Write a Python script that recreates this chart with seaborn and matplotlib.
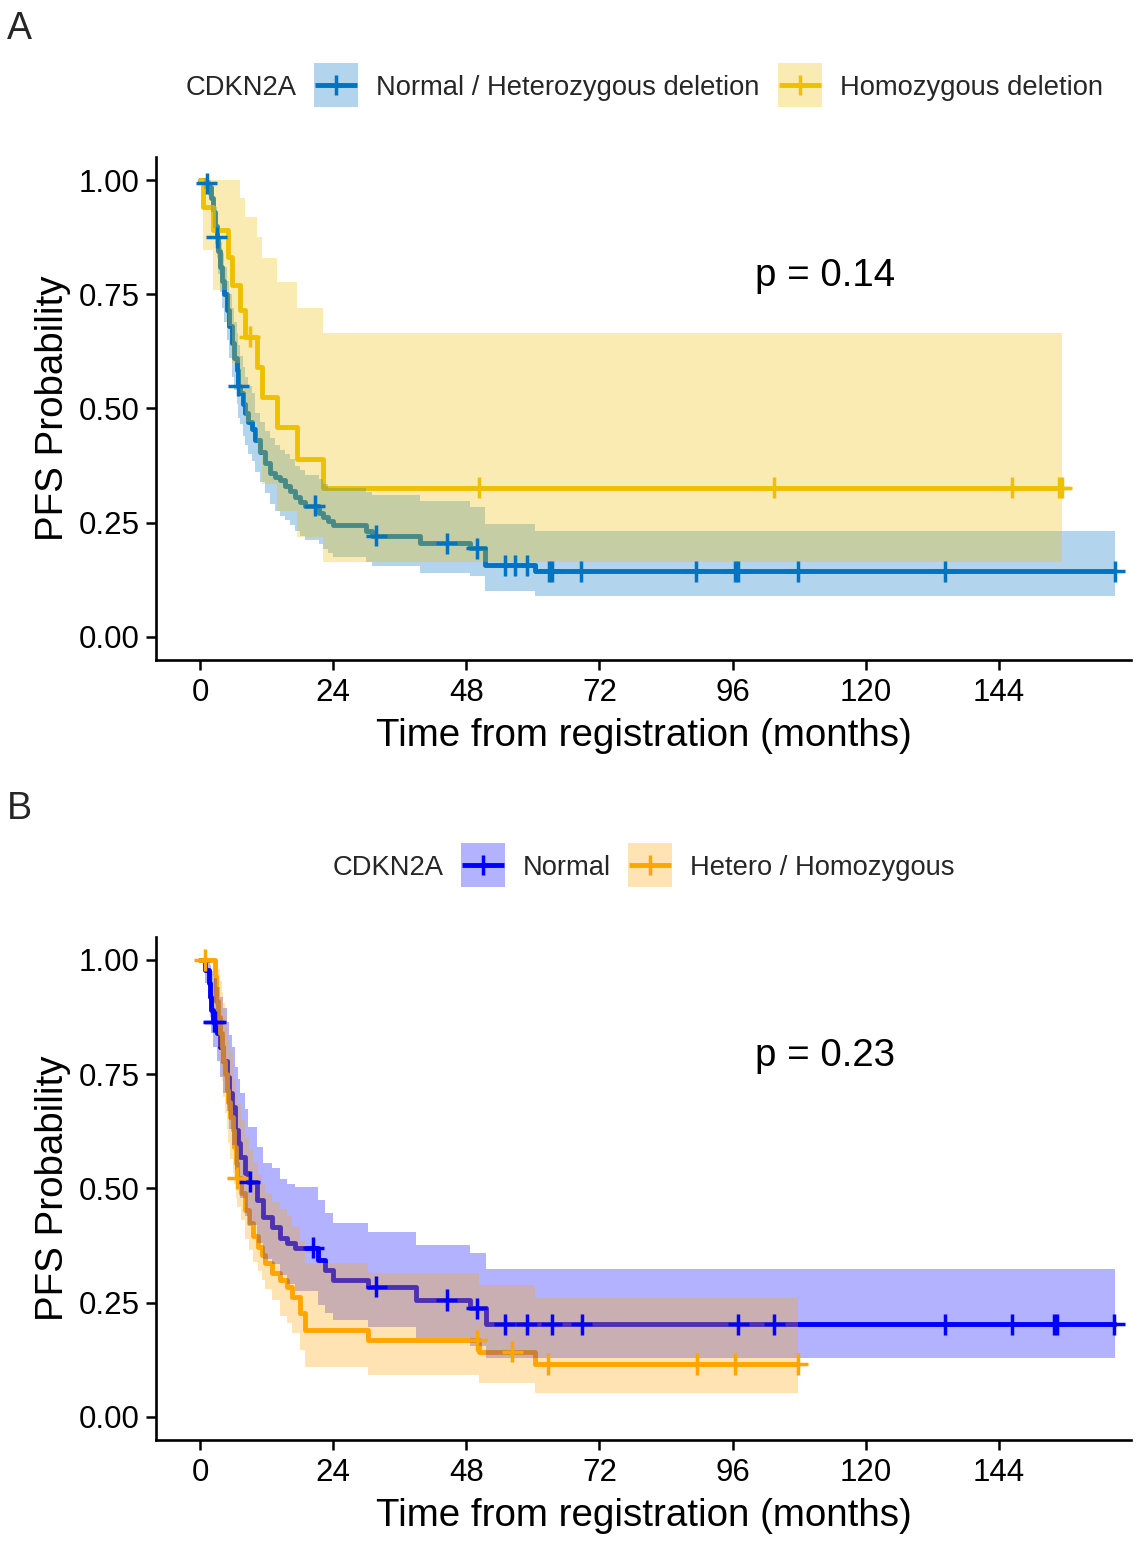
import numpy as np
import pandas as pd
import matplotlib
matplotlib.use("Agg")
import matplotlib.pyplot as plt
import seaborn as sns
from matplotlib.patches import Rectangle
from matplotlib.lines import Line2D

# ---------------- DATA ----------------
# Panel A : CDKN2A Normal / Heterozygous deletion
a1_time = [0, 0.8, 1.5, 2.0, 2.4, 2.7, 3.0, 3.3, 3.6, 3.9, 4.3, 4.8, 5.2, 5.7, 6.2, 6.6, 6.8,
           7.2, 7.7, 8.2, 8.7, 9.3, 10.0, 10.8, 11.7, 12.6, 13.5, 14.4, 15.3, 16.2, 17.1, 18.0,
           19.0, 21.5, 22.2, 23.0, 24.0, 30.0, 31.0, 39.6, 48.7, 51.3, 60.3]
a1_surv = [1.0, 0.993, 0.985, 0.96, 0.93, 0.90, 0.875, 0.845, 0.81, 0.78, 0.75, 0.715, 0.68, 0.643,
           0.61, 0.584, 0.55, 0.535, 0.51, 0.49, 0.47, 0.456, 0.43, 0.405, 0.38, 0.358, 0.35, 0.343,
           0.33, 0.32, 0.307, 0.295, 0.287, 0.272, 0.262, 0.253, 0.244, 0.233, 0.222, 0.205, 0.194,
           0.157, 0.144]
a1_low = [1.0, 0.98, 0.965, 0.93, 0.895, 0.86, 0.83, 0.795, 0.755, 0.72, 0.69, 0.65, 0.61, 0.57,
          0.54, 0.51, 0.48, 0.465, 0.44, 0.42, 0.40, 0.385, 0.36, 0.34, 0.315, 0.29, 0.275, 0.265,
          0.255, 0.245, 0.232, 0.222, 0.213, 0.203, 0.192, 0.183, 0.175, 0.165, 0.155, 0.14, 0.133,
          0.10, 0.089]
a1_up = [1.0, 1.0, 1.0, 0.985, 0.965, 0.94, 0.92, 0.895, 0.865, 0.84, 0.81, 0.78, 0.75, 0.72,
         0.69, 0.665, 0.64, 0.615, 0.59, 0.57, 0.55, 0.535, 0.49, 0.47, 0.45, 0.435, 0.42, 0.41,
         0.40, 0.39, 0.375, 0.365, 0.355, 0.345, 0.335, 0.327, 0.325, 0.318, 0.31, 0.297, 0.285,
         0.248, 0.233]
a1_end = 165.0
a1_cens = [1.2, 3.0, 6.9, 20.7, 31.8, 44.5, 49.9, 54.9, 56.7, 58.9, 62.9, 63.4, 68.7, 89.4,
           96.5, 96.9, 107.7, 134.3, 164.9]

# Panel A : CDKN2A Homozygous deletion
a2_time = [0, 0.5, 2.4, 5.1, 5.7, 7.2, 8.1, 10.2, 11.1, 13.8, 17.4, 22.2]
a2_surv = [1.0, 0.94, 0.89, 0.832, 0.77, 0.715, 0.657, 0.59, 0.525, 0.46, 0.39, 0.327]
a2_low = [1.0, 0.847, 0.76, 0.68, 0.60, 0.535, 0.47, 0.40, 0.335, 0.275, 0.219, 0.164]
a2_up = [1.0, 1.0, 1.0, 1.0, 1.0, 0.96, 0.92, 0.876, 0.83, 0.777, 0.72, 0.665]
a2_end = 155.3
a2_cens = [9.0, 50.3, 103.5, 146.3, 154.9, 155.3]

# Panel B : CDKN2A Normal
b1_time = [0, 0.9, 1.6, 1.8, 2.0, 2.4, 3.0, 3.6, 4.2, 4.8, 5.3, 5.7, 6.3, 6.8, 7.2, 8.1, 8.6,
           10.2, 11.4, 12.9, 14.4, 15.6, 17.1, 21.3, 22.5, 24.0, 30.3, 39.0, 48.7, 51.5]
b1_surv = [1.0, 0.978, 0.95, 0.92, 0.89, 0.865, 0.84, 0.81, 0.78, 0.745, 0.71, 0.679, 0.628, 0.60,
           0.57, 0.534, 0.515, 0.475, 0.438, 0.416, 0.392, 0.38, 0.37, 0.344, 0.322, 0.30, 0.285,
           0.256, 0.238, 0.203]
b1_low = [1.0, 0.95, 0.91, 0.875, 0.84, 0.81, 0.78, 0.745, 0.71, 0.67, 0.63, 0.595, 0.54, 0.51,
          0.48, 0.44, 0.42, 0.38, 0.345, 0.335, 0.31, 0.29, 0.275, 0.245, 0.228, 0.212, 0.198,
          0.172, 0.155, 0.129]
b1_up = [1.0, 1.0, 1.0, 0.99, 0.975, 0.96, 0.94, 0.92, 0.895, 0.865, 0.835, 0.81, 0.765, 0.74,
         0.71, 0.675, 0.635, 0.59, 0.555, 0.545, 0.52, 0.51, 0.504, 0.475, 0.446, 0.424, 0.405,
         0.376, 0.358, 0.324]
b1_end = 165.0
b1_cens = [2.5, 2.7, 9.0, 20.4, 31.8, 44.5, 49.9, 54.9, 58.9, 63.4, 68.8, 97.0, 103.5, 134.3,
           146.3, 154.0, 154.4, 164.8]

# Panel B : CDKN2A Hetero / Homozygous
b2_time = [0, 2.7, 2.9, 3.3, 3.6, 3.9, 4.2, 4.5, 4.8, 5.1, 5.4, 6.0, 6.2, 6.5, 6.6, 7.3, 8.1,
           8.8, 9.6, 10.5, 11.1, 11.7, 12.9, 14.5, 15.6, 16.5, 18.0, 18.9, 30.3, 50.3, 60.3]
b2_surv = [1.0, 0.965, 0.91, 0.875, 0.84, 0.81, 0.78, 0.75, 0.716, 0.69, 0.657, 0.628, 0.59,
           0.555, 0.523, 0.49, 0.453, 0.425, 0.395, 0.373, 0.355, 0.337, 0.315, 0.30, 0.285,
           0.263, 0.227, 0.19, 0.168, 0.143, 0.116]
b2_low = [1.0, 0.92, 0.855, 0.81, 0.77, 0.735, 0.70, 0.665, 0.63, 0.60, 0.565, 0.535, 0.51,
          0.48, 0.46, 0.43, 0.39, 0.365, 0.34, 0.32, 0.30, 0.28, 0.255, 0.22, 0.205, 0.183,
          0.147, 0.11, 0.092, 0.074, 0.052]
b2_up = [1.0, 1.0, 1.0, 0.98, 0.955, 0.93, 0.905, 0.88, 0.85, 0.825, 0.80, 0.775, 0.74, 0.71,
         0.685, 0.65, 0.61, 0.585, 0.555, 0.53, 0.51, 0.49, 0.47, 0.455, 0.44, 0.415, 0.385,
         0.337, 0.315, 0.289, 0.26]
b2_end = 107.7
b2_cens = [0.9, 6.7, 49.9, 56.3, 62.7, 89.6, 96.4, 107.7]

legend_title = "CDKN2A"
a_labels = ["Normal / Heterozygous deletion", "Homozygous deletion"]
b_labels = ["Normal", "Hetero / Homozygous"]
a_colors = ["#0073C2", "#EFC000"]
b_colors = ["#0000FF", "#FFA500"]
a_pval = "p = 0.14"
b_pval = "p = 0.23"
x_ticks = [0, 24, 48, 72, 96, 120, 144]
y_ticks = [0.0, 0.25, 0.5, 0.75, 1.0]
y_ticklabels = ["0.00", "0.25", "0.50", "0.75", "1.00"]
x_label = "Time from registration (months)"
y_label = "PFS Probability"

# ---------------- STYLE ----------------
sns.set_theme(style="ticks")
plt.rcParams["font.family"] = ["Liberation Sans", "DejaVu Sans"]

W, H = 1143, 1544
fig = plt.figure(figsize=(W / 100, H / 100), dpi=100)

LW = 3.5
ALPHA = 0.3


def surv_at(times, surv, t):
    idx = np.searchsorted(np.asarray(times), t, side="right") - 1
    return np.asarray(surv)[idx]


def draw_panel(ax, series, colors, labels):
    # step lines first
    rows = []
    for (tm, sv, lo, up, end), lab in zip(series, labels):
        for t, s in zip(list(tm) + [end], list(sv) + [sv[-1]]):
            rows.append({"time": t, "surv": s, "group": lab})
    df = pd.DataFrame(rows)
    sns.lineplot(data=df, x="time", y="surv", hue="group", hue_order=labels,
                 palette=colors, estimator=None, sort=False, drawstyle="steps-post",
                 linewidth=LW, legend=False, ax=ax, zorder=2)
    # confidence ribbons on top of lines
    for (tm, sv, lo, up, end), col in zip(series, colors):
        tt = list(tm) + [end]
        ax.fill_between(tt, list(lo) + [lo[-1]], list(up) + [up[-1]], step="post",
                        color=col, alpha=ALPHA, linewidth=0, zorder=3)


def draw_censors(ax, series, cens_list, colors, labels):
    rows = []
    for (tm, sv, lo, up, end), cens, lab in zip(series, cens_list, labels):
        for c in cens:
            rows.append({"time": c, "surv": surv_at(tm, sv, c), "group": lab})
    cdf = pd.DataFrame(rows)
    sns.scatterplot(data=cdf, x="time", y="surv", hue="group", hue_order=labels,
                    palette=colors, marker="+", s=230, linewidth=2.5, legend=False,
                    ax=ax, zorder=4)


def style_axes(ax, pval):
    ax.set_xlim(-7.93, 167.8)
    ax.set_ylim(-0.05, 1.05)
    ax.set_xticks(x_ticks)
    ax.set_xticklabels([str(v) for v in x_ticks])
    ax.set_yticks(y_ticks)
    ax.set_yticklabels(y_ticklabels)
    ax.tick_params(axis="both", labelsize=22.5, length=7, width=1.8, color="black",
                   labelcolor="black", direction="out")
    ax.tick_params(axis="x", pad=6)
    ax.tick_params(axis="y", pad=5)
    for side in ["top", "right"]:
        ax.spines[side].set_visible(False)
    for side in ["left", "bottom"]:
        ax.spines[side].set_linewidth(1.9)
        ax.spines[side].set_color("black")
    ax.set_xlabel(x_label, fontsize=27.7, color="black")
    ax.set_ylabel(y_label, fontsize=27.7, color="black")
    ax.xaxis.set_label_coords(0.5, -0.115)
    ax.yaxis.set_label_coords(-0.087, 0.5)
    ax.text(100, 0.79, pval, fontsize=27.7, ha="left", va="center", color="black")
    ax.set_facecolor("white")


left = 156 / W
width = (1131 - 156) / W
hgt = (1439.85 - 937.15) / H
axA = fig.add_axes([left, 1 - 659.85 / H, width, hgt])
axB = fig.add_axes([left, 1 - 1439.85 / H, width, hgt])

seriesA = [(a1_time, a1_surv, a1_low, a1_up, a1_end), (a2_time, a2_surv, a2_low, a2_up, a2_end)]
seriesB = [(b1_time, b1_surv, b1_low, b1_up, b1_end), (b2_time, b2_surv, b2_low, b2_up, b2_end)]

draw_panel(axA, seriesA, a_colors, a_labels)
draw_censors(axA, seriesA, [a1_cens, a2_cens], a_colors, a_labels)
style_axes(axA, a_pval)

draw_panel(axB, seriesB, b_colors, b_labels)
draw_censors(axB, seriesB, [b1_cens, b2_cens], b_colors, b_labels)
style_axes(axB, b_pval)

# ---------------- overlay (legends + panel tags) in pixel coordinates -------------
ov = fig.add_axes([0, 0, 1, 1], zorder=10)
ov.set_xlim(0, W)
ov.set_ylim(H, 0)
ov.axis("off")
ov.patch.set_alpha(0)

LEG_FS = 19.7


def draw_legend(y_c, title_x, key_xs, label_xs, labels, colors):
    ov.text(title_x, y_c + 10, legend_title, fontsize=LEG_FS, ha="left", va="baseline")
    for kx, lx, lab, col in zip(key_xs, label_xs, labels, colors):
        ov.add_patch(Rectangle((kx, y_c - 22), 44, 44, facecolor=col, alpha=ALPHA,
                               edgecolor="none"))
        ov.add_line(Line2D([kx + 1, kx + 43], [y_c, y_c], color=col, linewidth=LW,
                           solid_capstyle="butt"))
        ov.add_line(Line2D([kx + 22], [y_c], color=col, marker="+", markersize=15,
                           markeredgewidth=2.5, linestyle="none"))
        ov.text(lx, y_c + 10, lab, fontsize=LEG_FS, ha="left", va="baseline")


draw_legend(85, 186, [314, 778], [376, 840], a_labels, a_colors)
draw_legend(865, 333, [461, 628], [523, 690], b_labels, b_colors)

ov.text(7, 39, "A", fontsize=27, ha="left", va="baseline")
ov.text(7, 819, "B", fontsize=27, ha="left", va="baseline")

fig.savefig("out.png", dpi=100, facecolor="white")
